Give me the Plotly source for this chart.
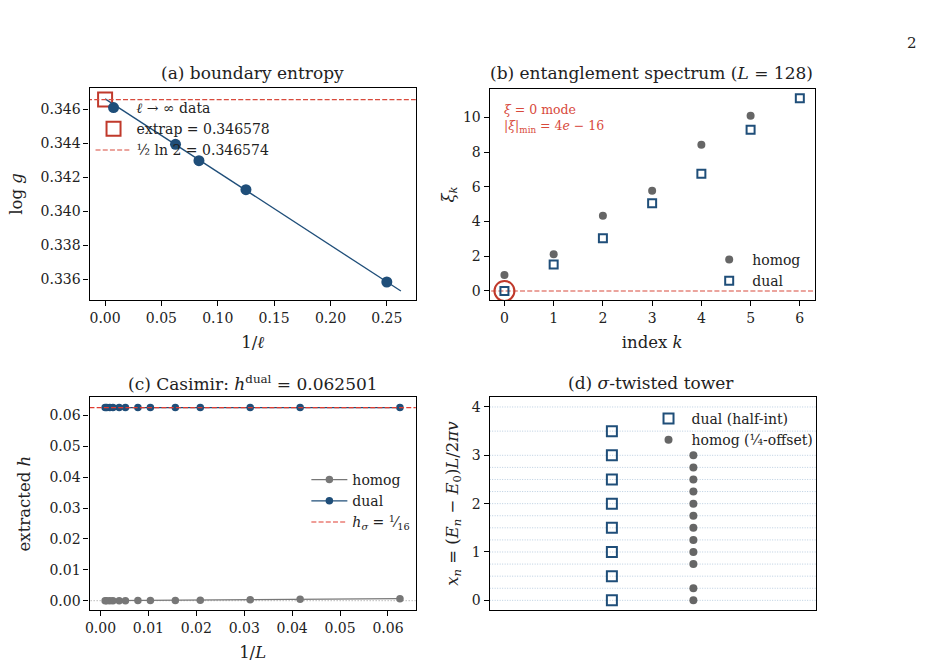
import numpy as np
import plotly.graph_objects as go

W, H = 925, 668
FONT = "DejaVu Serif"
BLUE = "#1f4e79"
GRAY = "#666666"
RED = "#c0392b"
RED_L = "#d84a3c"

# ---------------- data ----------------
# (a) boundary entropy
inv_ell = [0.0625, 0.0833, 0.125, 0.25]
log_g = [0.34394, 0.34298, 0.34127, 0.33584]
extrap_val = 0.346578
half_ln2 = 0.346574
fit_x_range = [0.0, 0.2625]

# (b) entanglement spectrum
k_homog = [0, 1, 2, 3, 4, 5]
xi_homog = [0.92, 2.12, 4.33, 5.77, 8.42, 10.10]
k_dual = [0, 1, 2, 3, 4, 5, 6]
xi_dual = [0.0, 1.52, 3.04, 5.06, 6.75, 9.29, 11.10]

# (c) Casimir
L_sizes = [16, 24, 32, 48, 64, 96, 128, 192, 256, 384, 512, 768, 1024]
h_dual = [0.062501, 0.062501, 0.062501, 0.062501, 0.062501, 0.062501, 0.062501,
          0.062501, 0.062501, 0.062501, 0.062501, 0.062501, 0.062501]
h_homog = [0.00066, 0.00045, 0.00030, 0.00017, 0.00010, 0.00005, 0.00003,
           0.00002, 0.00001, 0.00001, 0.0, 0.0, 0.0]
h_sigma = 1 / 16

# (d) twisted tower
dual_levels = [0.0, 0.5, 1.0, 1.5, 2.0, 2.5, 3.0, 3.5]
homog_levels = [0.0, 0.25, 0.75, 1.0, 1.25, 1.5, 1.75, 2.0, 2.25, 2.5, 2.75, 3.0]
grid_levels = [0.0, 0.25, 0.5, 0.75, 1.0, 1.25, 1.5, 1.75, 2.0, 2.25, 2.5, 2.75,
               3.0, 3.5, 4.0]
col_dual, col_homog = 0, 1


def xd(a, b):
    return [a / W, b / W]


def yd(top, bot):
    return [1 - bot / H, 1 - top / H]


DASH = "5px,2.2px"
fig = go.Figure()

# ---------- (a) ----------
coef = np.polyfit(inv_ell, log_g, 1)
fx = np.array(fit_x_range)
fig.add_trace(go.Scatter(x=fx, y=np.polyval(coef, fx), mode="lines",
                         line=dict(color=BLUE, width=1.3), showlegend=False,
                         xaxis="x", yaxis="y"))
fig.add_trace(go.Scatter(x=inv_ell, y=log_g, mode="markers",
                         marker=dict(color=BLUE, size=11),
                         name="<i>ℓ</i> → ∞ data", legend="legend",
                         xaxis="x", yaxis="y", legendgroup="a1"))
fig.add_trace(go.Scatter(x=[0], y=[extrap_val], mode="markers",
                         marker=dict(symbol="square-open", color=RED, size=14,
                                     line=dict(width=2)),
                         name="extrap = 0.346578", legend="legend",
                         xaxis="x", yaxis="y", legendgroup="a2"))
fig.add_trace(go.Scatter(x=[-1, 1], y=[half_ln2, half_ln2], mode="lines",
                         line=dict(color=RED_L, width=1.2, dash=DASH),
                         name="½ ln 2 = 0.346574", legend="legend",
                         xaxis="x", yaxis="y", legendgroup="a3"))

# ---------- (b) ----------
fig.add_trace(go.Scatter(x=[-1, 7], y=[0, 0], mode="lines",
                         line=dict(color=RED_L, width=1.2, dash=DASH),
                         showlegend=False, xaxis="x2", yaxis="y2"))
fig.add_trace(go.Scatter(x=k_homog, y=xi_homog, mode="markers",
                         marker=dict(color=GRAY, size=8), name="homog",
                         legend="legend2", xaxis="x2", yaxis="y2", legendgroup="b1"))
fig.add_trace(go.Scatter(x=k_dual, y=xi_dual, mode="markers",
                         marker=dict(symbol="square-open", color=BLUE, size=8,
                                     line=dict(width=2)),
                         name="dual", legend="legend2", xaxis="x2", yaxis="y2",
                         legendgroup="b2"))
fig.add_trace(go.Scatter(x=[k_dual[0]], y=[xi_dual[0]], mode="markers",
                         marker=dict(symbol="circle-open", color=RED, size=20,
                                     line=dict(width=2)),
                         showlegend=False, xaxis="x2", yaxis="y2"))

# ---------- (c) ----------
invL = [1 / v for v in L_sizes]
fig.add_trace(go.Scatter(x=[-1, 1], y=[0, 0], mode="lines",
                         line=dict(color="#999999", width=1, dash="1px,2px"),
                         showlegend=False, xaxis="x3", yaxis="y3"))
fig.add_trace(go.Scatter(x=invL, y=h_homog, mode="lines+markers",
                         line=dict(color="#777777", width=1.3),
                         marker=dict(color="#777777", size=7.5), name="homog",
                         legend="legend3", xaxis="x3", yaxis="y3", legendgroup="c1"))
fig.add_trace(go.Scatter(x=invL, y=h_dual, mode="lines+markers",
                         line=dict(color=BLUE, width=1.3),
                         marker=dict(color=BLUE, size=7.5), name="dual",
                         legend="legend3", xaxis="x3", yaxis="y3", legendgroup="c2"))
fig.add_trace(go.Scatter(x=[-1, 1], y=[h_sigma, h_sigma], mode="lines",
                         line=dict(color="#e03c31", width=1.2, dash=DASH),
                         name="<i>h<sub>σ</sub></i> = <sup>1</sup>⁄<sub>16</sub>",
                         legend="legend3", xaxis="x3", yaxis="y3", legendgroup="c3"))

# ---------- (d) ----------
for lv in grid_levels:
    fig.add_shape(type="line", xref="x4 domain", yref="y4", x0=0, x1=1, y0=lv, y1=lv,
                  line=dict(color="#b9cde0", width=1, dash="1px,1.5px"), layer="below")
fig.add_trace(go.Scatter(x=[col_dual] * len(dual_levels), y=dual_levels, mode="markers",
                         marker=dict(symbol="square-open", color=BLUE, size=10,
                                     line=dict(width=2)),
                         name="dual (half-int)", legend="legend4",
                         xaxis="x4", yaxis="y4", legendgroup="d1"))
fig.add_trace(go.Scatter(x=[col_homog] * len(homog_levels), y=homog_levels,
                         mode="markers", marker=dict(color=GRAY, size=8),
                         name="homog (¼-offset)", legend="legend4",
                         xaxis="x4", yaxis="y4", legendgroup="d2"))

tickfont = dict(family=FONT, size=14, color="#222222")
titlefont = dict(family=FONT, size=16.5, color="#222222")


def ax(domain, anchor, **kw):
    d = dict(domain=domain, anchor=anchor, showline=True, mirror=True,
             linecolor="black", linewidth=1.2, ticks="outside", ticklen=5,
             tickcolor="black", showgrid=False, zeroline=False, tickfont=tickfont,
             title_font=titlefont)
    d.update(kw)
    return d


legkw = dict(bgcolor="rgba(0,0,0,0)", borderwidth=0, tracegroupgap=0,
             font=dict(family=FONT, size=14, color="#222222"),
             xanchor="left", yanchor="top", itemwidth=36)

fig.update_layout(
    width=W, height=H, margin=dict(l=0, r=0, t=0, b=0),
    paper_bgcolor="white", plot_bgcolor="white",
    xaxis=ax(xd(85, 413), "y", range=[-0.0138, 0.2757],
             tickvals=[0, 0.05, 0.10, 0.15, 0.20, 0.25],
             ticktext=["0.00", "0.05", "0.10", "0.15", "0.20", "0.25"],
             title=dict(text="1/<i>ℓ</i>", standoff=11)),
    yaxis=ax(yd(88, 300), "x", range=[0.334782, 0.347253],
             tickvals=[0.336, 0.338, 0.340, 0.342, 0.344, 0.346],
             ticktext=["0.336", "0.338", "0.340", "0.342", "0.344", "0.346"],
             title=dict(text="log <i>g</i>", standoff=13)),
    xaxis2=ax(xd(487.3, 814), "y2", range=[-0.3, 6.3], tickvals=[0, 1, 2, 3, 4, 5, 6],
              title=dict(text="index <i>k</i>", standoff=11)),
    yaxis2=ax(yd(89, 300), "x2", range=[-0.52, 11.64], tickvals=[0, 2, 4, 6, 8, 10],
              title=dict(text="<i>ξ<sub>k</sub></i>", standoff=4)),
    xaxis3=ax(xd(85, 413), "y3", range=[-0.00228, 0.0658],
              tickvals=[0, 0.01, 0.02, 0.03, 0.04, 0.05, 0.06],
              ticktext=["0.00", "0.01", "0.02", "0.03", "0.04", "0.05", "0.06"],
              title=dict(text="1/<i>L</i>", standoff=11)),
    yaxis3=ax(yd(397.3, 610), "x3", range=[-0.00301, 0.06583],
              tickvals=[0, 0.01, 0.02, 0.03, 0.04, 0.05, 0.06],
              ticktext=["0.00", "0.01", "0.02", "0.03", "0.04", "0.05", "0.06"],
              title=dict(text="extracted <i>h</i>", standoff=14)),
    xaxis4=ax(xd(487.3, 815), "y4", range=[-1.5, 2.5], showticklabels=False,
              ticks=""),
    yaxis4=ax(yd(397.3, 610), "x4", range=[-0.2, 4.2], tickvals=[0, 1, 2, 3, 4],
              title=dict(text="<i>x<sub>n</sub></i> = (<i>E<sub>n</sub></i> − <i>E</i><sub>0</sub>)<i>L</i>/2<i>πv</i>",
                         standoff=9)),
    legend=dict(legkw, x=86 / W, y=1 - 92 / H),
    legend2=dict(legkw, x=705 / W, y=1 - 244 / H),
    legend3=dict(legkw, x=303 / W, y=1 - 464 / H),
    legend4=dict(legkw, x=644 / W, y=1 - 403 / H),
)

ann = []
titles = [("(a) boundary entropy", 249, 73),
          ("(b) entanglement spectrum (<i>L</i> = 128)", 650, 73),
          ("(c) Casimir: <i>h</i><sup>dual</sup> = 0.062501", 249, 383),
          ("(d) <i>σ</i>-twisted tower", 650, 383)]
for t, x, y in titles:
    ann.append(dict(text=t, x=x / W, y=1 - y / H, xref="paper", yref="paper",
                    showarrow=False, xanchor="center", yanchor="middle",
                    font=dict(family=FONT, size=17, color="#222222")))
ann.append(dict(text="<i>ξ</i> = 0 mode", x=500 / W, y=1 - 109 / H, xref="paper",
                yref="paper", showarrow=False, xanchor="left", yanchor="middle",
                font=dict(family=FONT, size=12.5, color=RED_L)))
ann.append(dict(text="|<i>ξ</i>|<sub>min</sub> = 4<i>e</i> − 16", x=500 / W, y=1 - 127 / H,
                xref="paper", yref="paper", showarrow=False, xanchor="left",
                yanchor="middle", font=dict(family=FONT, size=12.5, color=RED_L)))
ann.append(dict(text="2", x=912 / W, y=1 - 43 / H, xref="paper", yref="paper",
                showarrow=False, xanchor="center", yanchor="middle",
                font=dict(family=FONT, size=15, color="#222222")))
fig.update_layout(annotations=ann)

fig.write_html("out.html")
